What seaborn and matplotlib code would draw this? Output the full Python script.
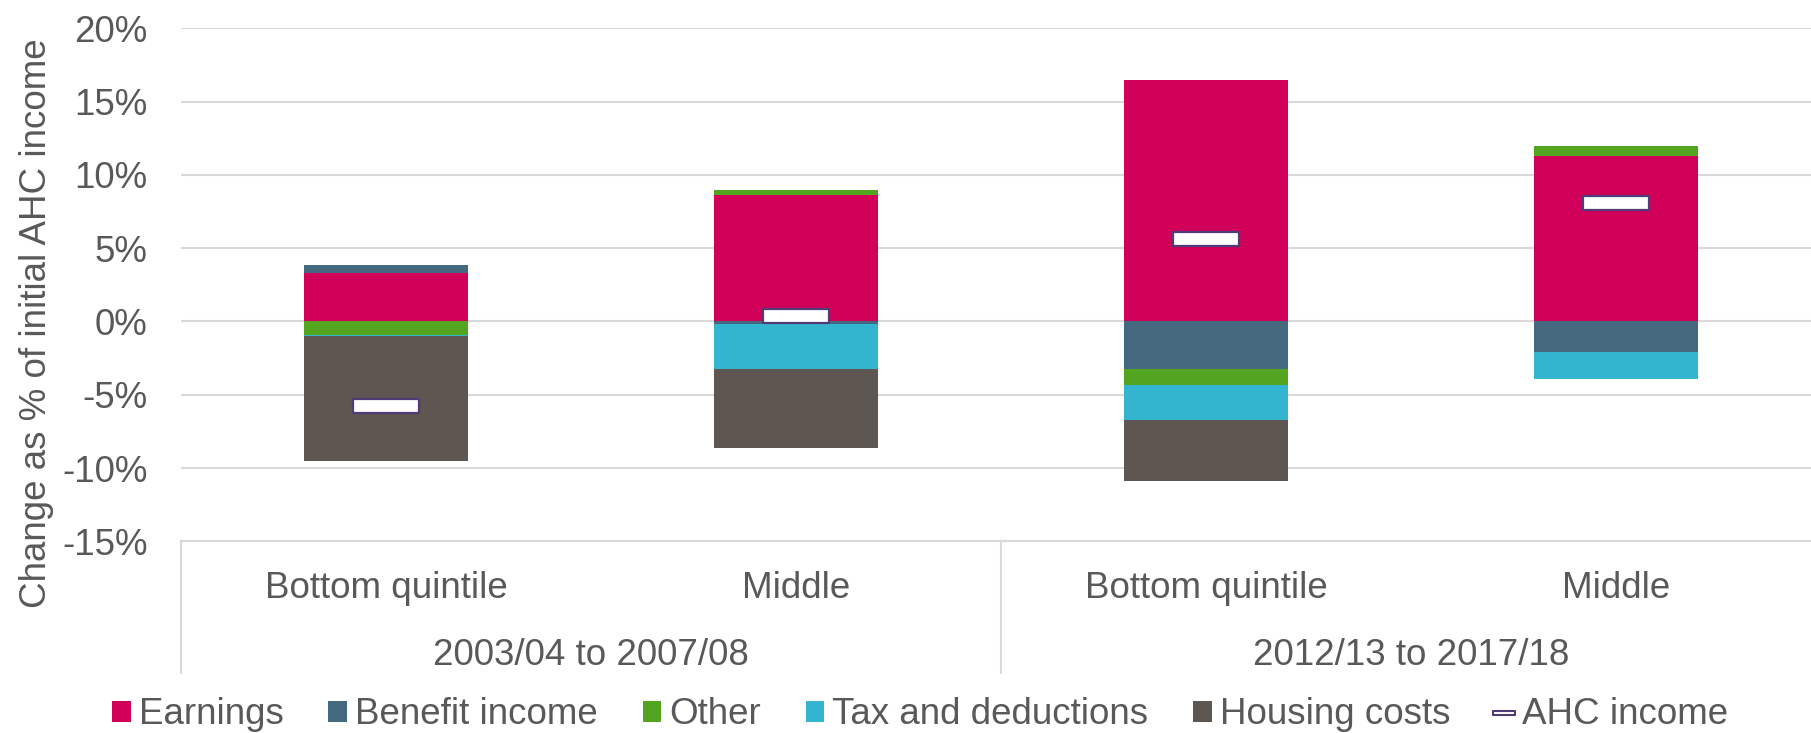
import matplotlib
matplotlib.use("Agg")
import matplotlib.pyplot as plt
import seaborn as sns
import numpy as np
import pandas as pd
from matplotlib.patches import Patch
from matplotlib.lines import Line2D
from matplotlib.path import Path

# data (% of initial AHC income)
periods = ["2003/04 to 2007/08", "2012/13 to 2017/18"]
quintiles = ["Bottom quintile", "Middle", "Bottom quintile", "Middle"]
earnings = [3.3, 8.6, 16.5, 11.3]
benefit_income = [0.55, -0.2, -3.25, -2.1]
other = [-0.9, 0.35, -1.1, 0.7]
tax_and_deductions = [-0.12, -3.05, -2.4, -1.8]
housing_costs = [-8.5, -5.35, -4.1, 0.0]
ahc_income = [-5.75, 0.35, 5.6, 8.1]

components = {
    "Earnings": earnings,
    "Benefit income": benefit_income,
    "Other": other,
    "Tax and deductions": tax_and_deductions,
    "Housing costs": housing_costs,
}
colors = {
    "Earnings": "#D10059",
    "Benefit income": "#44687E",
    "Other": "#53A41E",
    "Tax and deductions": "#33B5CF",
    "Housing costs": "#5E5650",
}
ahc_edge = "#503A78"
text_color = "#595959"
grid_color = "#D9D9D9"
fs = 26.5

sns.set_theme(style="white")
plt.rcParams["font.family"] = ["Liberation Sans", "DejaVu Sans"]

fig = plt.figure(figsize=(18.11, 7.33), dpi=100)
W, H = 1811, 733
left, top, bottom_px = 181, 28.3, 541.4
ax = fig.add_axes([left / W, 1 - bottom_px / H, 1640 / W, (bottom_px - top) / H])

pos = np.arange(len(quintiles))
pos_base = np.zeros(len(pos))
neg_base = np.zeros(len(pos))
for name, vals in components.items():
    vals = np.array(vals)
    base = np.where(vals >= 0, pos_base, neg_base)
    ax.bar(pos, vals, bottom=base, width=0.40, color=colors[name],
           linewidth=0, zorder=2)
    pos_base = pos_base + np.clip(vals, 0, None)
    neg_base = neg_base + np.clip(vals, None, 0)

rect = Path([(-1, -0.206), (1, -0.206), (1, 0.206), (-1, 0.206), (-1, -0.206)],
            [Path.MOVETO, Path.LINETO, Path.LINETO, Path.LINETO, Path.CLOSEPOLY])
df_ahc = pd.DataFrame({"x": pos, "y": ahc_income})
sns.scatterplot(data=df_ahc, x="x", y="y", marker=rect, s=47 ** 2,
                color="white", edgecolor=ahc_edge, linewidth=1.6,
                zorder=4, ax=ax, legend=False)

ax.set_xlim(-0.5, 3.5)
ax.set_ylim(-15, 20)
ticks = np.arange(-15, 21, 5)
ax.set_yticks(ticks)
ax.set_yticklabels([f"{t}%" for t in ticks], fontsize=fs, color=text_color)
ax.tick_params(axis="y", length=0, pad=24)
ax.grid(axis="y", color=grid_color, linewidth=1.5, zorder=0)
ax.set_axisbelow(True)
for s in ["top", "right", "left"]:
    ax.spines[s].set_visible(False)
ax.spines["bottom"].set_color(grid_color)
ax.spines["bottom"].set_linewidth(1.5)

ax.set_xticks(pos)
ax.set_xticklabels(quintiles, fontsize=fs, color=text_color)
ax.tick_params(axis="x", length=0, pad=21)
ax.set_xlabel("")
ax.set_ylabel("")

# grouped category axis
trans = ax.get_xaxis_transform()
ax_h = bottom_px - top
for i, p in enumerate(periods):
    ax.text(2 * i + 0.5, -(665 - bottom_px) / ax_h, p, transform=trans,
            ha="center", va="baseline", fontsize=fs, color=text_color)
for xd in [-0.5, 1.5, 3.5]:
    ax.plot([xd, xd], [0, -(673 - bottom_px) / ax_h], transform=trans,
            color=grid_color, linewidth=1.5, clip_on=False)

fig.text(37 / W, 1 - 323 / H, "Change as % of initial AHC income", rotation=90,
         ha="center", va="center", fontsize=fs, color=text_color)

handles = [Patch(facecolor=colors[n], edgecolor="none", label=n) for n in components]
handles.append(Line2D([], [], marker=rect, markersize=16, linestyle="none",
                      markerfacecolor="white", markeredgecolor=ahc_edge,
                      markeredgewidth=1.5, label="AHC income"))
leg = fig.legend(handles=handles, loc="center", bbox_to_anchor=(0.508, 1 - 715 / H),
                 ncol=6, frameon=False, fontsize=fs, handlelength=0.5,
                 handleheight=0.5, handletextpad=0.22, columnspacing=1.22,
                 borderaxespad=0, borderpad=0)
for t in leg.get_texts():
    t.set_color(text_color)

fig.savefig("out.png", dpi=100)
